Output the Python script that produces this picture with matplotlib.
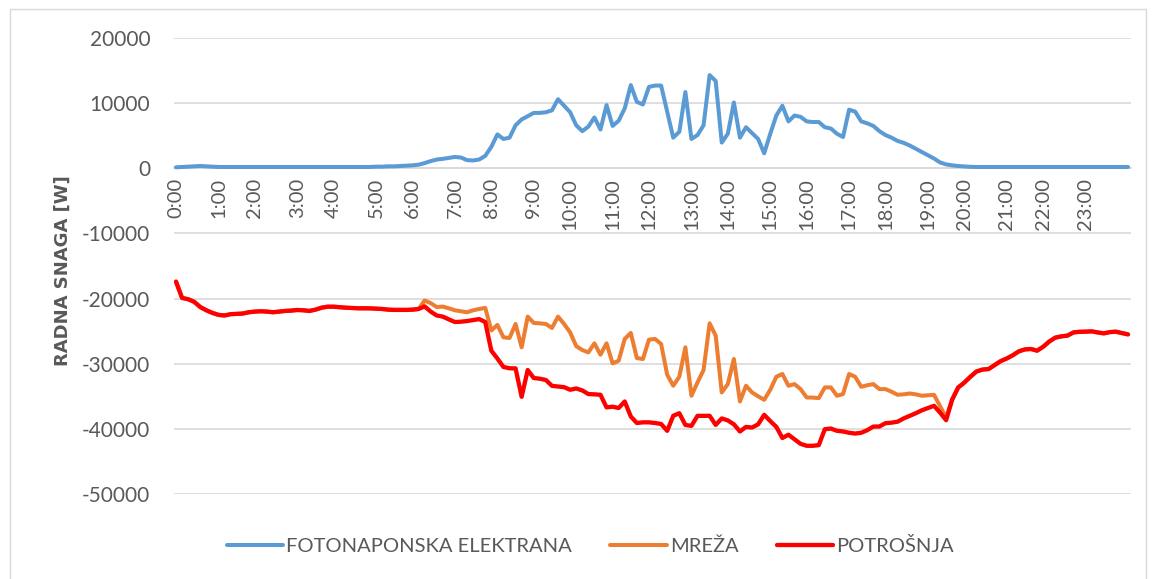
import matplotlib
matplotlib.use("Agg")
import matplotlib.pyplot as plt
from matplotlib.patches import Rectangle
from matplotlib.font_manager import FontProperties

# Hour labels and the sample index at which each hour starts
hour_labels = ["0:00", "1:00", "2:00", "3:00", "4:00", "5:00", "6:00", "7:00",
               "8:00", "9:00", "10:00", "11:00", "12:00", "13:00", "14:00", "15:00",
               "16:00", "17:00", "18:00", "19:00", "20:00", "21:00", "22:00", "23:00"]
hour_ticks = [0, 7, 13, 20, 26, 33, 39, 46, 52, 59, 65, 72, 78, 85, 91, 98,
              104, 111, 117, 124, 130, 137, 143, 150]

# Active power of the PV plant [W]
pv = [150, 200, 250, 300, 350, 300, 250,
      200, 200, 200, 200, 200, 200, 200, 200, 200, 200, 200, 200, 200,
      200, 200, 200, 200, 200, 200, 200, 200, 200, 200, 200, 200, 200,
      250, 250, 300, 300, 350, 400, 450, 550, 800, 1100, 1340, 1450, 1600, 1740, 1650, 1250, 1200,
      1350, 1900, 3300, 5200, 4500, 4700, 6600, 7500, 8000, 8500,
      8500, 8600, 8900, 10600, 9600, 8600, 6600, 5700, 6400, 7800,
      5950, 9700, 6500, 7300, 9200, 12770, 10200, 9800, 12500, 12700,
      12700, 8700, 4700, 5600, 11700, 4500, 5100, 6600, 14300, 13400,
      3950, 5300, 10100, 4700, 6300, 5400, 4500, 2300, 5300, 8100,
      9600, 7200, 8100, 7900, 7200, 7100, 7100, 6300, 6100, 5300,
      4800, 9000, 8700, 7200, 6900, 6500, 5700, 5100, 4700, 4200,
      3900, 3500, 3000, 2500, 2000, 1500, 900, 600, 450, 350,
      280, 220,
      200, 200, 200, 200, 200, 200, 200, 200, 200, 200, 200, 200, 200,
      200, 200, 200, 200, 200, 200, 200, 200, 200, 200, 200, 200, 200]

# Active power drawn from the grid [W]
grid = [-17400, -19900, -20100, -20500, -21300, -21800, -22200, -22500, -22600, -22400,
        -22350, -22300, -22100, -22000, -21950, -22000, -22100, -22000, -21900, -21850,
        -21750, -21800, -21900, -21700, -21400, -21250, -21250, -21330, -21400, -21450,
        -21490, -21490, -21500, -21550, -21600, -21700, -21740, -21740, -21740, -21700,
        -21600, -20300, -20700, -21300, -21230, -21500, -21800, -21950, -22100, -21800,
        -21600, -21430, -24900, -24050, -25950, -26050, -23900, -27490, -22770, -23740,
        -23800, -23900, -24510, -22770, -23900, -25200, -27300, -27900, -28260, -26870,
        -28620, -26870, -29950, -29540, -26200, -25280, -29130, -29280, -26300, -26200,
        -26970, -31690, -33380, -32000, -27490, -34920, -32870, -30970, -23800, -25690,
        -34410, -33130, -29280, -35800, -33380, -34410, -35000, -35540, -34000, -32000,
        -31580, -33380, -33130, -33900, -35180, -35200, -35280, -33640, -33640, -34920,
        -34660, -31580, -32000, -33540, -33300, -33130, -33900, -33900, -34300, -34770,
        -34700, -34570, -34700, -34920, -34850, -34770, -36500, -38260, -35500, -33640,
        -32900, -32000, -31200, -30900, -30820, -30200, -29600, -29200, -28700, -28100,
        -27800, -27740, -28000, -27400, -26600, -26000, -25800, -25690, -25200, -25100,
        -25080, -25030, -25200, -25340, -25150, -25080, -25300, -25500]

# Active power of the consumption [W]
load = [-17400, -19900, -20100, -20500, -21300, -21800, -22200, -22500, -22600, -22400,
        -22350, -22300, -22100, -22000, -21950, -22000, -22100, -22000, -21900, -21850,
        -21750, -21800, -21900, -21700, -21400, -21250, -21250, -21330, -21400, -21450,
        -21490, -21490, -21500, -21550, -21600, -21700, -21740, -21740, -21740, -21700,
        -21600, -21200, -22000, -22600, -22770, -23200, -23600, -23550, -23450, -23300,
        -23150, -23600, -28000, -29200, -30500, -30700, -30720, -35080, -30970, -32200,
        -32300, -32500, -33400, -33500, -33600, -34000, -33800, -34100, -34660, -34700,
        -34770, -36700, -36600, -36800, -35800, -38100, -39100, -39000, -39000, -39100,
        -39250, -40300, -38000, -37600, -39400, -39540, -38000, -38000, -38000, -39390,
        -38400, -38700, -39300, -40400, -39700, -39800, -39300, -37850, -38800, -39700,
        -41400, -40900, -41600, -42300, -42600, -42600, -42500, -40050, -39950, -40300,
        -40400, -40600, -40720, -40600, -40200, -39650, -39640, -39130, -39050, -38900,
        -38400, -38000, -37600, -37150, -36800, -36460, -37500, -38670, -35500, -33640,
        -32900, -32000, -31200, -30900, -30820, -30200, -29600, -29200, -28700, -28100,
        -27800, -27740, -28000, -27400, -26600, -26000, -25800, -25690, -25200, -25100,
        -25080, -25030, -25200, -25340, -25150, -25080, -25300, -25500]

series_names = ["FOTONAPONSKA ELEKTRANA", "MREŽA", "POTROŠNJA"]
series_colors = ["#5B9BD5", "#ED7D31", "#FF0000"]
y_ticks = [20000, 10000, 0, -10000, -20000, -30000, -40000, -50000]

plt.rcParams["font.family"] = ["Lato", "DejaVu Sans"]
TXT = "#595959"
GRID = "#D9D9D9"

W, H = 1155, 579
fig = plt.figure(figsize=(W / 100, H / 100), dpi=100)

# plot area in pixel coordinates
left, right, top, bottom = 174, 1131, 38, 494
ax = fig.add_axes([left / W, 1 - bottom / H, (right - left) / W, (bottom - top) / H])

x = list(range(len(pv)))
for data, name, col, lw in zip([pv, grid, load], series_names, series_colors, [2.9, 2.9, 3.1]):
    ax.plot(x, data, color=col, lw=lw, label=name, solid_joinstyle="round",
            solid_capstyle="round", zorder=3)

ax.set_xlim(-0.33, len(pv) - 1 + 0.49)
ax.set_ylim(-50000, 20000)
ax.set_yticks(y_ticks)
ax.set_yticklabels([str(v) for v in y_ticks])
ax.yaxis.grid(True, color=GRID, lw=1.2, zorder=0)
ax.set_axisbelow(True)

for s in ["left", "right", "top"]:
    ax.spines[s].set_visible(False)
ax.spines["bottom"].set_position(("data", 0))
ax.spines["bottom"].set_color(GRID)
ax.spines["bottom"].set_linewidth(1.2)

ax.set_xticks(hour_ticks)
ax.set_xticklabels(hour_labels, rotation=90, va="top", ha="center")
ax.tick_params(axis="x", length=0, pad=7, labelsize=14.5, labelcolor=TXT)
ax.tick_params(axis="y", length=0, pad=17, labelsize=15, labelcolor=TXT)

label_font = FontProperties(family="DejaVu Sans", weight="bold", size=13)
ax.set_ylabel("RADNA SNAGA [W]", fontproperties=label_font, color=TXT)
ax.yaxis.set_label_coords(-0.107, 0.49)

leg = fig.legend(loc="center", bbox_to_anchor=(0.511, 1 - 546 / H), ncol=3,
                 frameon=False, fontsize=14.5, handlelength=2.8, handletextpad=0.15,
                 columnspacing=1.9)
for t in leg.get_texts():
    t.set_color(TXT)

# chart border
fig.add_artist(Rectangle((9.5 / W, -0.01), (1146 - 9.5) / W, 1 - 8.5 / H + 0.01,
                         transform=fig.transFigure, fill=False, edgecolor=GRID, lw=1.0))

fig.savefig("out.png", dpi=100, facecolor="white")
